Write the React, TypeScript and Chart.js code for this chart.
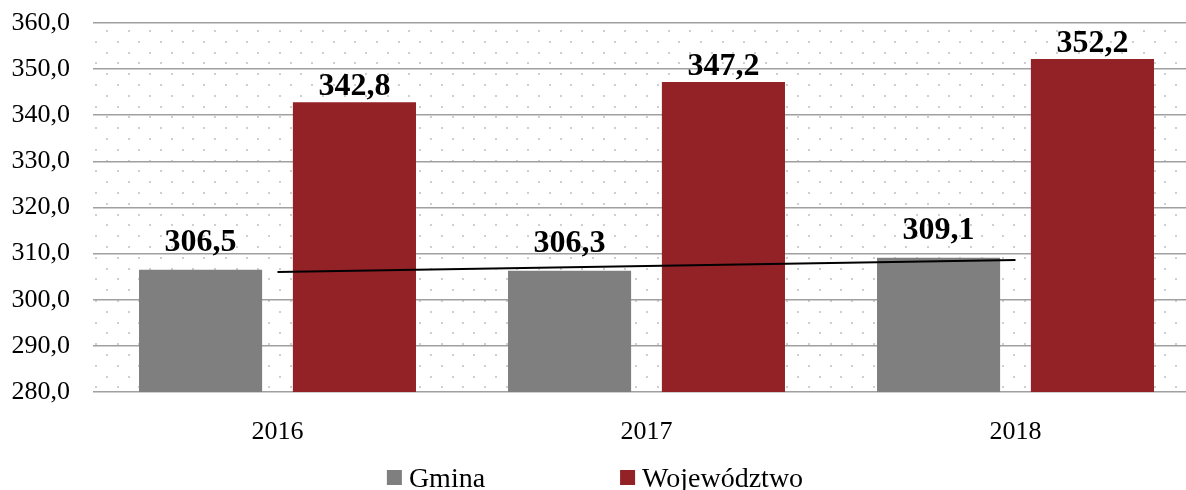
import React, { useEffect, useRef } from "react";
import { Chart, registerables } from "chart.js";

Chart.register(...registerables);

const categories = ["2016", "2017", "2018"];
const gminaValues = [306.5, 306.3, 309.1];
const wojewodztwoValues = [342.8, 347.2, 352.2];
const yMin = 280;
const yMax = 360;
const yStep = 10;

const seriesNames = ["Gmina", "Województwo"];
const seriesColors = ["#7f7f7f", "#922226"];

const FONT = "'Liberation Serif', 'Times New Roman', Times, serif";

const fmt = (v: number) => v.toFixed(1).replace(".", ",");

// Linear (least-squares) trend line of the Gmina series, like Excel's trendline
function linearTrend(values: number[]): number[] {
  const n = values.length;
  const xs = values.map((_, i) => i);
  const mx = xs.reduce((a, b) => a + b, 0) / n;
  const my = values.reduce((a, b) => a + b, 0) / n;
  let num = 0;
  let den = 0;
  for (let i = 0; i < n; i++) {
    num += (xs[i] - mx) * (values[i] - my);
    den += (xs[i] - mx) * (xs[i] - mx);
  }
  const slope = num / den;
  const icpt = my - slope * mx;
  return xs.map((x) => icpt + slope * x);
}

const dotsPlugin = {
  id: "dotsBackground",
  beforeDraw(chart: any) {
    const { ctx, chartArea } = chart;
    const { left, right, top, bottom } = chartArea;
    ctx.save();
    ctx.fillStyle = "#ffffff";
    ctx.fillRect(0, 0, chart.width, chart.height);
    ctx.fillStyle = "#cfcfcf";
    const dx = 21.6;
    const dy = 10.8;
    let row = 0;
    for (let y = top + 7; y < bottom; y += dy, row++) {
      const start = left + (row % 2 === 0 ? 13 : 2.2);
      for (let x = start; x < right; x += dx) {
        ctx.fillRect(Math.round(x), Math.round(y), 2, 2);
      }
    }
    ctx.restore();
  },
};

const valueLabelsPlugin = {
  id: "valueLabels",
  afterDatasetsDraw(chart: any) {
    const { ctx } = chart;
    ctx.save();
    ctx.font = `bold 32px ${FONT}`;
    ctx.fillStyle = "#000000";
    ctx.textAlign = "center";
    ctx.textBaseline = "alphabetic";
    chart.data.datasets.forEach((ds: any, di: number) => {
      if (ds.type === "line") return;
      const meta = chart.getDatasetMeta(di);
      const off = ds.labelOffset ?? 8;
      meta.data.forEach((el: any, i: number) => {
        ctx.fillText(fmt(ds.data[i]), el.x, el.y - off);
      });
    });
    ctx.restore();
  },
};

const legendPlugin = {
  id: "customLegend",
  afterDraw(chart: any) {
    const { ctx } = chart;
    ctx.save();
    ctx.font = `28px ${FONT}`;
    ctx.textBaseline = "alphabetic";
    ctx.textAlign = "left";
    const box = 15;
    const boxGap = 7;
    const itemGap = 135;
    const widths = seriesNames.map((s) => box + boxGap + ctx.measureText(s).width);
    const total = widths.reduce((a, b) => a + b, 0) + itemGap * (widths.length - 1);
    let x = 595 - total / 2;
    const baseline = 487;
    seriesNames.forEach((name, i) => {
      ctx.fillStyle = seriesColors[i];
      ctx.fillRect(x, 470, box, box);
      ctx.fillStyle = "#000000";
      ctx.fillText(name, x + box + boxGap, baseline);
      x += widths[i] + itemGap;
    });
    ctx.restore();
  },
};

export default function App() {
  const ref = useRef<HTMLCanvasElement | null>(null);

  useEffect(() => {
    if (!ref.current) return;
    const chart = new Chart(ref.current, {
      type: "bar",
      data: {
        labels: categories,
        datasets: [
          {
            type: "line",
            label: "Trend",
            data: linearTrend(gminaValues),
            borderColor: "#000000",
            borderWidth: 2,
            pointRadius: 0,
            fill: false,
            order: 0,
          } as any,
          {
            label: seriesNames[0],
            data: gminaValues,
            backgroundColor: seriesColors[0],
            categoryPercentage: 0.834,
            barPercentage: 0.8,
            order: 1,
            labelOffset: 19,
          } as any,
          {
            label: seriesNames[1],
            data: wojewodztwoValues,
            backgroundColor: seriesColors[1],
            categoryPercentage: 0.834,
            barPercentage: 0.8,
            order: 1,
            labelOffset: 7,
          } as any,
        ],
      },
      options: {
        responsive: false,
        animation: false,
        layout: { padding: { top: 23, left: 0, right: 0, bottom: 0 } },
        plugins: {
          legend: { display: false },
          tooltip: { enabled: false },
        },
        scales: {
          x: {
            grid: { display: false },
            border: { display: false },
            ticks: {
              color: "#000000",
              font: { family: FONT, size: 26 },
              padding: 17,
            },
            afterFit: (s: any) => {
              s.height = 98;
              s.paddingLeft = 0;
              s.paddingRight = 0;
            },
          },
          y: {
            min: yMin,
            max: yMax,
            grid: {
              color: "#a0a0a0",
              lineWidth: 1.6,
              drawTicks: false,
            },
            border: { display: false },
            ticks: {
              stepSize: yStep,
              color: "#000000",
              font: { family: FONT, size: 26 },
              padding: 23,
              callback: (v: any) => fmt(Number(v)),
            },
            afterFit: (s: any) => {
              s.width = 93;
              s.paddingTop = 0;
              s.paddingBottom = 0;
            },
          },
        },
      },
      plugins: [dotsPlugin, valueLabelsPlugin, legendPlugin],
    });
    return () => chart.destroy();
  }, []);

  return (
    <div
      style={{
        position: "fixed",
        left: 0,
        top: 0,
        width: 1186,
        height: 490,
        overflow: "hidden",
        background: "#ffffff",
      }}
    >
      <canvas ref={ref} width={1200} height={490} style={{ width: 1200, height: 490, display: "block" }} />
    </div>
  );
}
